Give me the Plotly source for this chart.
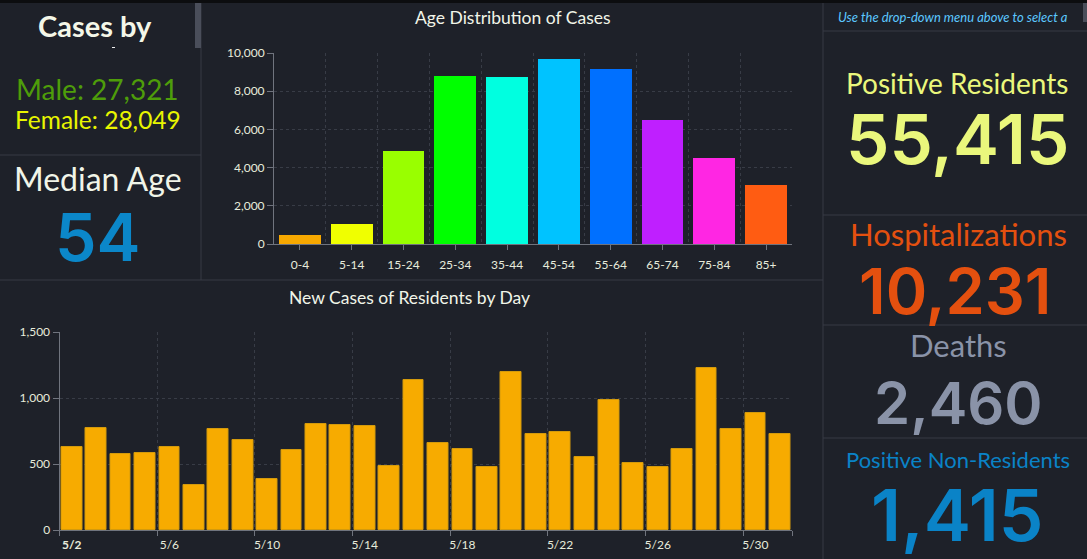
import numpy as np
import plotly.graph_objects as go

W = 1087
H = 559
FONT = "Lato"
NUM_FONT = "Inter"
BG = "#1e2129"
LINE = "#363a44"
GRID = "#383c46"
AXIS = "#70747e"
TICK_TEXT = "#e8ecdc"

age_groups = ["0-4", "5-14", "15-24", "25-34", "35-44", "45-54", "55-64", "65-74", "75-84", "85+"]
age_cases = [490, 1065, 4890, 8810, 8760, 9700, 9180, 6510, 4520, 3105]
age_colors = ["#f7a800", "#f0ff00", "#99ff00", "#00ff00", "#00ffe0",
              "#00c3ff", "#0070ff", "#bf1fff", "#ff26e3", "#ff5c12"]

days = ["<b>5/2</b>"] + [f"5/{d}" for d in range(3, 32)]
new_cases = [631, 775, 578, 586, 631, 343, 768, 684, 389, 609,
             805, 798, 790, 487, 1139, 662, 616, 480, 1199, 730,
             745, 556, 987, 510, 480, 616, 1230, 768, 889, 730]
bar_color = "#f7ab00"
bar_edge = "#d39a0c"


def px_x(v):
    return v / W


def px_y(v):
    return 1 - v / H


def band_axis(labels, step, domain, anchor, ticks_on_edges, standoff):
    # grid sits on the band edges, labels in the middle of the bars
    idx = np.arange(len(labels))
    edges = np.append(idx[::step] - 0.5, len(labels) - 0.5)
    axis = dict(
        domain=domain, anchor=anchor, range=[-0.5, len(labels) - 0.5], automargin=False,
        tickmode="array", tickvals=idx[::step], ticktext=labels[::step],
        showgrid=False, zeroline=False, showline=True, linecolor=AXIS, linewidth=1,
        tickfont=dict(family=FONT, size=12, color=TICK_TEXT), ticklabelstandoff=standoff,
        minor=dict(tickmode="array", tickvals=edges, showgrid=True, gridcolor=GRID,
                   griddash="3px,3px", gridwidth=1),
    )
    if ticks_on_edges:
        axis["ticks"] = ""
        axis["minor"].update(ticks="outside", ticklen=5, tickcolor=AXIS)
    else:
        axis.update(ticks="outside", ticklen=5, tickcolor=AXIS)
    return axis


def value_axis(vmax, dtick, domain, anchor):
    return dict(
        domain=domain, anchor=anchor, range=[0, vmax], dtick=dtick, tickformat=",d", automargin=False,
        showgrid=True, gridcolor=GRID, griddash="3px,3px", gridwidth=1, zeroline=False,
        showline=True, linecolor=AXIS, linewidth=1, ticks="outside", ticklen=6, tickcolor=AXIS,
        tickfont=dict(family=FONT, size=12, color=TICK_TEXT),
    )


fig = go.Figure()

fig.add_trace(go.Bar(x=np.arange(len(age_groups)), y=age_cases, marker=dict(color=age_colors, line_width=0),
                     width=0.81, xaxis="x", yaxis="y", showlegend=False))
fig.add_trace(go.Bar(x=np.arange(len(days)), y=new_cases,
                     marker=dict(color=bar_color, line=dict(color=bar_edge, width=1)),
                     width=0.85, xaxis="x2", yaxis="y2", showlegend=False))

fig.update_layout(
    width=W, height=H, margin=dict(l=0, r=0, t=0, b=0), autosize=False,
    paper_bgcolor=BG, plot_bgcolor=BG, bargap=0,
    xaxis=band_axis(age_groups, 1, [px_x(274), px_x(792)], "y", False, 5),
    yaxis=value_axis(10000, 2000, [px_y(244), px_y(53)], "x"),
    xaxis2=band_axis(days, 4, [px_x(59.5), px_x(792)], "y2", True, 4),
    yaxis2=value_axis(1500, 500, [px_y(530), px_y(332)], "x2"),
)

# panel dividers (pixel positions of the dashboard frame)
dividers = [
    (201, 0, 201, 280), (0, 155, 201, 155), (0, 280, 823, 280), (823, 0, 823, 559),
    (823, 31, 1087, 31), (823, 215, 1087, 215), (823, 325, 1087, 325), (823, 438, 1087, 438),
]
for x0, y0, x1, y1 in dividers:
    fig.add_shape(type="line", xref="paper", yref="paper", layer="below",
                  x0=px_x(x0), x1=px_x(x1), y0=px_y(y0), y1=px_y(y1), line=dict(color=LINE, width=1))

blocks = [
    (0, 0, 1087, 3, "#0c0d0f"),     # top strip
    (195, 3, 201, 48, "#4a4e5a"),   # scrollbars
    (1083, 3, 1087, 22, "#4a4e5a"),
    (112, 47, 115, 48, "#f0f0f0"),  # clipped line of the title
]
for x0, y0, x1, y1, c in blocks:
    fig.add_shape(type="rect", xref="paper", yref="paper", layer="below", line_width=0, fillcolor=c,
                  x0=px_x(x0), x1=px_x(x1), y0=px_y(y0), y1=px_y(y1))

# text: label, centre x, centre y, size, colour, font, weight, style
texts = [
    ("Cases by", 95, 26, 29, "#f4f7e8", FONT, 700, "normal"),
    ("Male: 27,321", 97, 89, 28, "#4e9d0a", FONT, 400, "normal"),
    ("Female: 28,049", 98, 120, 24.5, "#e8f500", FONT, 400, "normal"),
    ("Median Age", 98, 178, 32, "#f1f5e8", FONT, 400, "normal"),
    ("54", 97, 237, 66, "#0b87c9", NUM_FONT, 600, "normal"),
    ("Age Distribution of Cases", 513, 18, 17.5, "#f1f5e8", FONT, 400, "normal"),
    ("New Cases of Residents by Day", 409, 297, 17.5, "#f1f5e8", FONT, 400, "normal"),
    ("Use the drop-down menu above to select a", 953, 17, 13, "#5cc8ff", FONT, 400, "italic"),
    ("Positive Residents", 957, 83, 28, "#eaf77c", FONT, 400, "normal"),
    ("55,415", 957, 139, 69, "#eaf77c", NUM_FONT, 600, "normal"),
    ("Hospitalizations", 958, 234, 31, "#e4500f", FONT, 400, "normal"),
    ("10,231", 955, 291, 63, "#e4500f", NUM_FONT, 600, "normal"),
    ("Deaths", 958, 345, 31, "#8a93a8", FONT, 400, "normal"),
    ("2,460", 958, 403, 58, "#8a93a8", NUM_FONT, 600, "normal"),
    ("Positive Non-Residents", 958, 459, 22, "#0a83c7", FONT, 400, "normal"),
    ("1,415", 957, 515, 71, "#0a83c7", NUM_FONT, 600, "normal"),
]
for txt, x, y, size, color, family, weight, style in texts:
    fig.add_annotation(text=txt, xref="paper", yref="paper", x=px_x(x), y=px_y(y),
                       xanchor="center", yanchor="middle", showarrow=False,
                       font=dict(family=family, size=size, color=color, weight=weight, style=style))

fig.write_html("out.html", config=dict(displayModeBar=False),
               post_script="document.body.style.margin='0';")
